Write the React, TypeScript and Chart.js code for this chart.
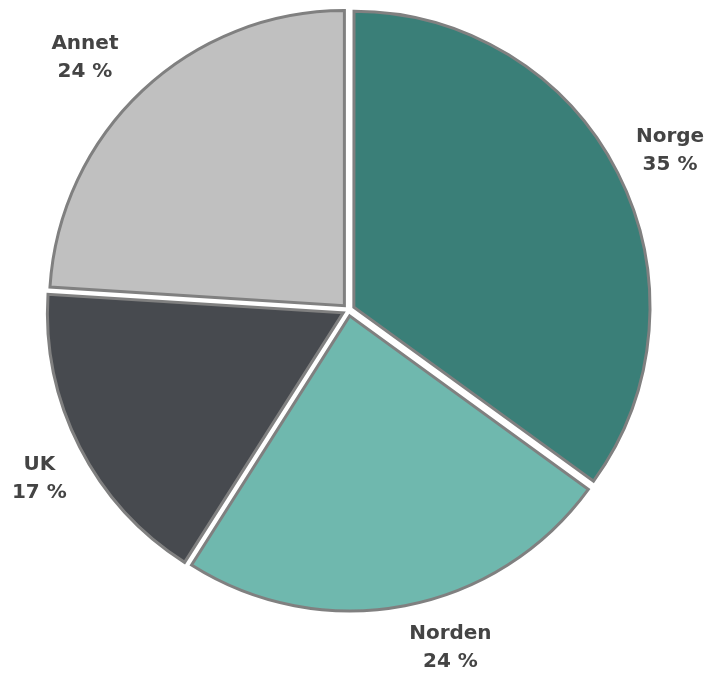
import React, { useEffect, useRef } from "react";
import { Chart, registerables } from "chart.js";

Chart.register(...registerables);

const categories = ["Norge", "Norden", "UK", "Annet"];
const shares = [35, 24, 17, 24];
const percentLabels = ["35 %", "24 %", "17 %", "24 %"];
const colors = ["#3a7f78", "#6fb8ae", "#474a4f", "#c0c0c0"];

const labelPlugin = {
  id: "outerLabels",
  afterDraw(chart: any, _args: any, opts: any) {
    const ctx = chart.ctx;
    const meta = chart.getDatasetMeta(0);
    const nudges = opts.nudges || [];
    ctx.save();
    ctx.font = "bold 20px 'DejaVu Sans'";
    ctx.fillStyle = "#444444";
    ctx.textAlign = "center";
    ctx.textBaseline = "middle";
    const lineH = 28;
    meta.data.forEach((arc: any, i: number) => {
      const { x, y, startAngle, endAngle, outerRadius } = arc.getProps(
        ["x", "y", "startAngle", "endAngle", "outerRadius"],
        true
      );
      const mid = (startAngle + endAngle) / 2;
      const c = Math.cos(mid);
      const s = Math.sin(mid);
      const l1 = categories[i];
      const l2 = percentLabels[i];
      const w = Math.max(ctx.measureText(l1).width, ctx.measureText(l2).width);
      const h = lineH * 2;
      const extent = Math.abs(c) * (w / 2) + Math.abs(s) * (h / 2);
      const d = outerRadius + 16 + extent;
      const n = nudges[i] || [0, 0];
      const cx = x + c * d + n[0];
      const cy = y + s * d + n[1];
      ctx.fillText(l1, cx, cy - lineH / 2);
      ctx.fillText(l2, cx, cy + lineH / 2);
    });
    ctx.restore();
  },
};

export default function App() {
  const ref = useRef<HTMLCanvasElement | null>(null);
  useEffect(() => {
    if (!ref.current) return;
    const chart = new Chart(ref.current, {
      type: "pie",
      data: {
        labels: categories,
        datasets: [
          {
            data: shares,
            backgroundColor: colors,
            borderColor: "#808080",
            borderWidth: 3,
            offset: 24,
            borderJoinStyle: "miter",
          } as any,
        ],
      },
      options: {
        animation: false,
        responsive: true,
        maintainAspectRatio: false,
        layout: { padding: { left: 40, right: 55, top: 1, bottom: 57 } },
        plugins: {
          legend: { display: false },
          tooltip: { enabled: false },
          outerLabels: { nudges: [[6, 2], [37, -2], [1, 11], [-21, 6]] },
        } as any,
      },
      plugins: [labelPlugin],
    });
    return () => chart.destroy();
  }, []);
  return (
    <div style={{ position: "absolute", left: 0, top: 0, width: 712, height: 676 }}>
      <canvas ref={ref} />
    </div>
  );
}
